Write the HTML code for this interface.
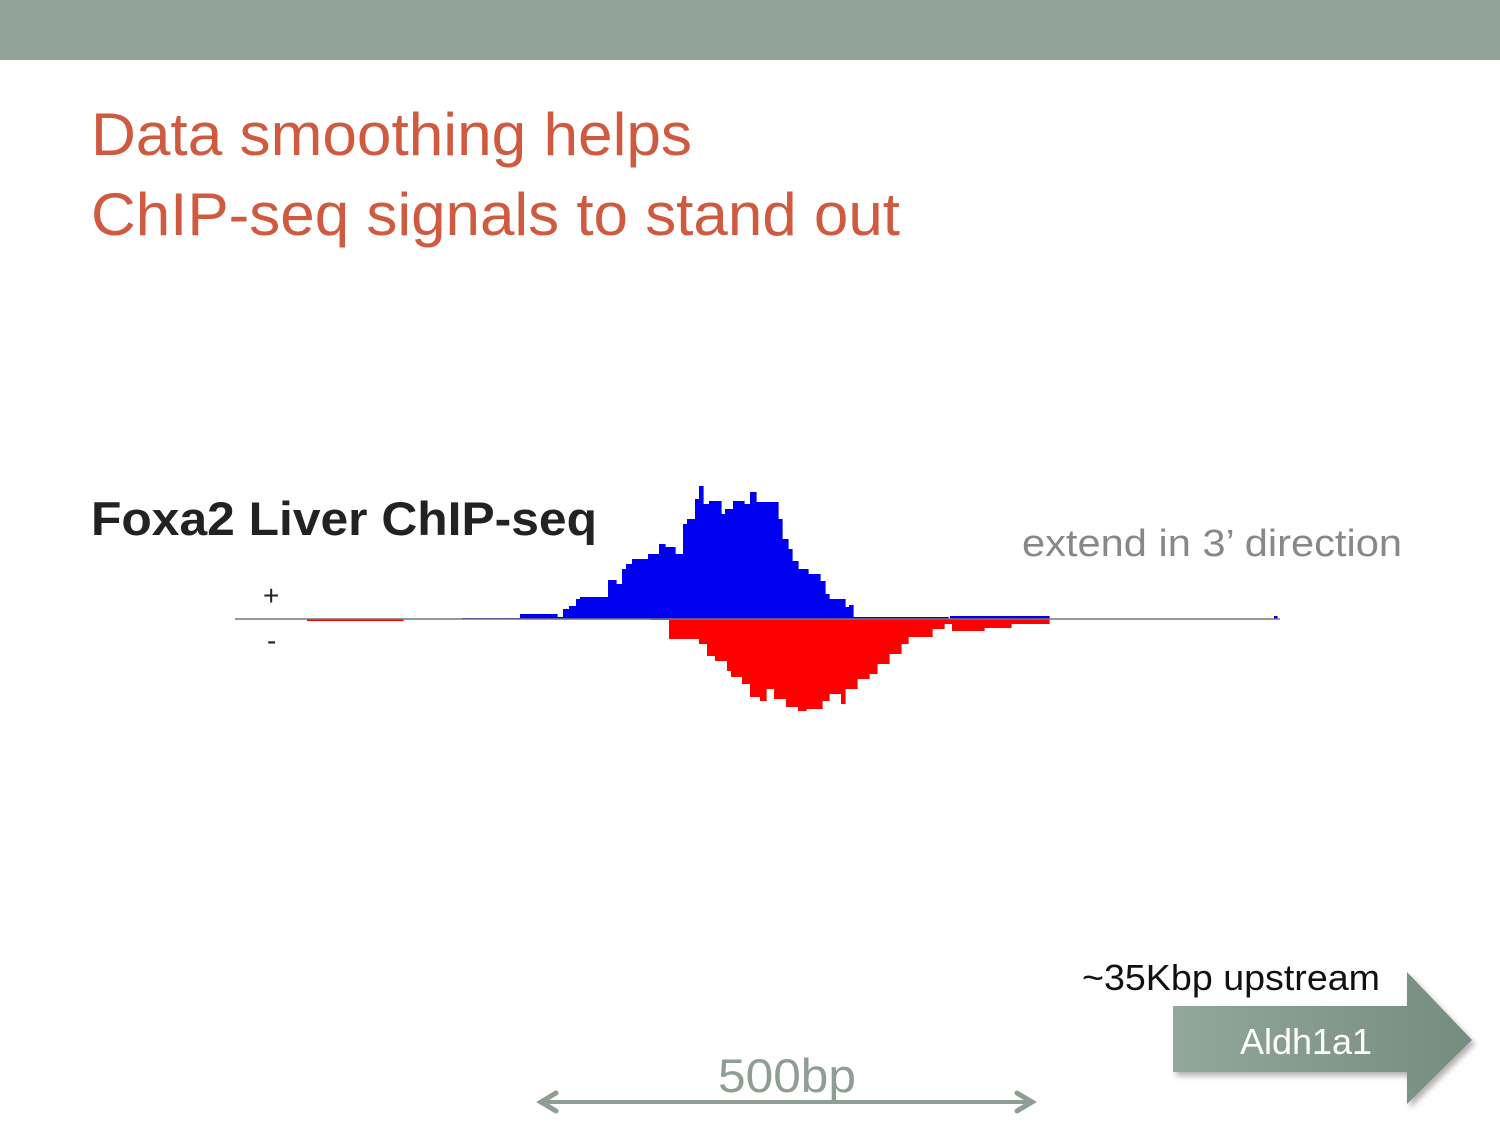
<!DOCTYPE html>
<html><head><meta charset="utf-8"><style>
html,body{margin:0;padding:0;background:#fff}
body{width:1500px;height:1125px;overflow:hidden;position:relative;font-family:"Liberation Sans",sans-serif}
</style></head><body>
<svg id="s" width="1500" height="1125" viewBox="0 0 1500 1125" xmlns="http://www.w3.org/2000/svg">
<defs>
<linearGradient id="ag" x1="0" x2="1" y1="0" y2="0"><stop offset="0" stop-color="#93a79b"/><stop offset="1" stop-color="#768c7f"/></linearGradient>
<filter id="sh" x="-10%" y="-10%" width="130%" height="130%"><feDropShadow dx="3" dy="4" stdDeviation="3" flood-color="#000" flood-opacity="0.3"/></filter>
</defs>
<rect x="0" y="0" width="1500" height="60" fill="#92a39a"/>
<text x="91" y="155" font-size="60" fill="#cf5a3f" textLength="601" lengthAdjust="spacingAndGlyphs">Data smoothing helps</text>
<text x="91" y="235" font-size="60" fill="#cf5a3f" textLength="809" lengthAdjust="spacingAndGlyphs">ChIP-seq signals to stand out</text>
<text x="91" y="535" font-size="47" font-weight="bold" fill="#222" textLength="506" lengthAdjust="spacingAndGlyphs">Foxa2 Liver ChIP-seq</text>
<text x="1022" y="556" font-size="38" fill="#888" textLength="380" lengthAdjust="spacingAndGlyphs">extend in 3’ direction</text>
<text x="263" y="605" font-size="28" fill="#222">+</text>
<text x="267" y="650" font-size="28" fill="#222">-</text>
<g id="chart"></g>
<line x1="235" y1="619" x2="1280" y2="619" stroke="#777" stroke-width="1.5"/>
<g>
<line x1="545" y1="1102" x2="1028" y2="1102" stroke="#8e9e94" stroke-width="4"/>
<polyline points="556,1093 541,1102 556,1111" fill="none" stroke="#8e9e94" stroke-width="5" stroke-linecap="round"/>
<polyline points="1017,1093 1032,1102 1017,1111" fill="none" stroke="#8e9e94" stroke-width="5" stroke-linecap="round"/>
<text x="718" y="1092" font-size="47" fill="#8e9e94" textLength="138" lengthAdjust="spacingAndGlyphs">500bp</text>
</g>
<text x="1082" y="990" font-size="36" fill="#111" textLength="298" lengthAdjust="spacingAndGlyphs">~35Kbp upstream</text>
<g filter="url(#sh)">
<polygon points="1173,1006 1407,1006 1407,972 1472,1040 1407,1104 1407,1072 1173,1072" fill="url(#ag)"/>
<text x="1306" y="1054" font-size="36" fill="#fff" text-anchor="middle">Aldh1a1</text>
</g>
</svg>
<script>
// genomic offsets (bp from track start) and read counts
const plusStarts=[227,285,322,328,334,341,345,373,381,387,391,397,413,424,430,440,448,452,460,464,468,474,486,490,498,509,515,521,543,547,553,557,563,573,585,590,594,610,614,618,713,715,1039];
const plusEnds  =[285,322,328,334,341,345,373,381,387,391,397,413,424,430,440,448,452,460,464,468,474,486,490,498,509,515,521,543,547,553,557,563,573,585,590,594,610,614,618,713,715,814,1042];
const plusVals  =[1,5,2,10,13,20,22,39,35,50,55,60,65,75,72,65,95,100,120,133,115,118,105,110,118,115,127,117,100,80,70,58,50,45,38,25,20,12,14,2,0,3,3];
const minusStarts=[72,416,434,464,472,480,492,496,507,515,525,531,539,551,563,571,587,594,606,610,622,634,642,654,666,673,697,709,717,749,776];
const minusEnds  =[168,434,464,472,480,492,496,507,515,525,531,539,551,563,571,587,594,606,610,622,634,642,654,666,673,697,709,717,749,776,814];
const minusVals  =[2,1,20,25,37,42,52,58,65,78,82,70,80,88,92,90,82,75,85,70,60,55,45,35,25,18,10,5,12,9,5];
const x=b=>235+b;
const y0=619;
const yUp=v=>y0-v;
const yDn=v=>y0+v;
const g=document.getElementById('chart');
const NS='http://www.w3.org/2000/svg';
function bar(s,e,v,up,i){
  const r=document.createElementNS(NS,'rect');
  const yy=up?yUp(v):y0;
  r.setAttribute('x',x(s));r.setAttribute('width',Math.max(0,x(e)-x(s))+0.6);
  r.setAttribute('y',yy);r.setAttribute('height',Math.abs(up?y0-yUp(v):yDn(v)-y0));
  r.setAttribute('fill',up?'#0000f0':'#ff0000');
  
  
  g.appendChild(r);
}
plusVals.forEach((v,i)=>bar(plusStarts[i],plusEnds[i],v,true,i));
minusVals.forEach((v,i)=>bar(minusStarts[i],minusEnds[i],v,false,i));
</script>
</body></html>
